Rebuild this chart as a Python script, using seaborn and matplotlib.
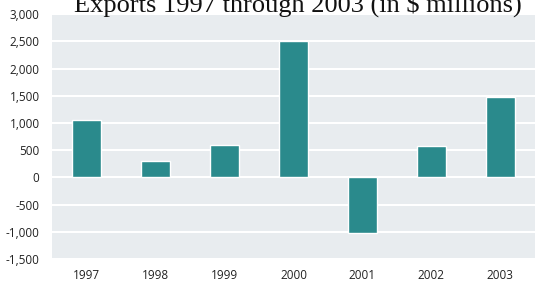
import pandas as pd
from matplotlib import pyplot as plt
import seaborn as sns

years = ['1997', '1998', '1999', '2000', '2001', '2002', '2003']
exports = [1050, 300, 600, 2500, -1020, 570, 1470]
y_ticks = [3000, 2500, 2000, 1500, 1000, 500, 0, -500, -1000, -1500]

dataset = pd.DataFrame({'Year': years, 'Exports': exports})

sns.set_style('white')
plt.rcParams['font.family'] = ['Open Sans', 'DejaVu Sans']

fig = plt.figure(figsize=(5.37, 2.83), dpi=100)
ax = fig.add_axes([0.097, 0.085, 0.899, 0.865])
ax.set_facecolor('#e8ecef')

sns.barplot(x='Year', y='Exports', data=dataset, color='#2a8a8c',
            saturation=1, width=0.42, ax=ax, zorder=3)

ax.set_ylim(-1500, 3000)
ax.set_yticks(y_ticks)
ax.set_yticklabels([f'{v:,}' for v in y_ticks])
ax.grid(axis='y', color='white', linewidth=1.5, zorder=0)
ax.set_axisbelow(True)
for s in ax.spines.values():
    s.set_visible(False)
ax.tick_params(axis='y', length=0, labelsize=8.5, colors='#222222', pad=9)
ax.tick_params(axis='x', length=0, labelsize=8.5, colors='#222222', pad=7)
ax.set_xlabel('')
ax.set_ylabel('')

fig.text(0.555, 0.96, 'Exports 1997 through 2003 (in $ millions)',
         ha='center', va='baseline', fontsize=19, family='Liberation Serif',
         color='#111111')

fig.savefig('out.png', dpi=100)
